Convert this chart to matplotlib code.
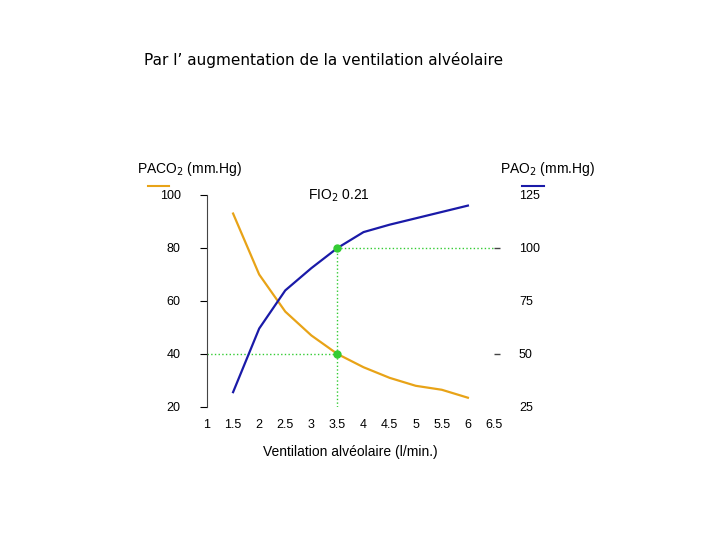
import matplotlib
matplotlib.use("Agg")
import matplotlib.pyplot as plt

va = [1.5, 2, 2.5, 3, 3.5, 4, 4.5, 5, 5.5, 6]
paco2 = [93, 70, 56, 47, 40, 35, 31, 28, 26.5, 23.5]
va_o2 = [1.5, 2, 2.5, 3, 3.5, 4, 4.5, 5, 5.5, 6]
pao2 = [32, 62, 80, 90.5, 100, 107.5, 111, 114, 117, 120]
xticks = [1, 1.5, 2, 2.5, 3, 3.5, 4, 4.5, 5, 5.5, 6, 6.5]
lticks = [20, 40, 60, 80, 100]
rticks = [25, 50, 75, 100, 125]

plt.rcParams['font.family'] = ['Liberation Sans', 'DejaVu Sans']
fig = plt.figure(figsize=(7.2, 5.4), dpi=100)
ax = fig.add_axes([0.2875, 0.2463, 0.3986, 0.3926])
ax.set_xlim(1, 6.5)
ax.set_ylim(20, 100)
ax.plot(va, paco2, color='#e8a317', lw=1.6)
for s in ['top', 'right', 'bottom']:
    ax.spines[s].set_visible(False)
ax.spines['left'].set_color('#444444')
ax.set_xticks(xticks)
ax.set_xticklabels([f"{t:g}" for t in xticks], fontsize=9)
ax.set_yticks(lticks)
ax.set_yticklabels([str(t) for t in lticks], fontsize=9)
ax.tick_params(axis='x', length=0, pad=9)
ax.tick_params(axis='y', length=5, direction='out', pad=14)
ax.set_xlabel('Ventilation alvéolaire (l/min.)', fontsize=10, labelpad=10)

ax2 = ax.twinx()
ax2.set_ylim(25, 125)
ax2.plot(va_o2, pao2, color='#1a1aa8', lw=1.6)
for s in ['top', 'right', 'bottom', 'left']:
    ax2.spines[s].set_visible(False)
ax2.set_yticks(rticks)
ax2.set_yticklabels([str(t) for t in rticks], fontsize=9)
ax2.tick_params(axis='y', length=0, pad=18)

g = '#33cc33'
ax.plot([1, 3.5], [40, 40], color=g, ls=':', lw=1)
ax.plot([3.5, 3.5], [20, 40], color=g, ls=':', lw=1)
ax2.plot([3.5, 3.5], [50, 100], color=g, ls=':', lw=1)
ax2.plot([3.5, 6.5], [100, 100], color=g, ls=':', lw=1)
ax.plot([3.5], [40], 'o', color=g, ms=5)
ax2.plot([3.5], [100], 'o', color=g, ms=5)
ax2.plot([6.55], [100], marker='_', color='#444444', ms=5, clip_on=False)
ax2.plot([6.55], [50], marker='_', color='#444444', ms=5, clip_on=False)

fig.text(0.2, 0.88, "Par l’ augmentation de la ventilation alvéolaire", fontsize=11,
         family=['DejaVu Sans'])
fig.text(0.19, 0.68, "PACO$_2$ (mm.Hg)", fontsize=10)
fig.text(0.695, 0.68, "PAO$_2$ (mm.Hg)", fontsize=10)
fig.text(0.428, 0.63, "FIO$_2$ 0.21", fontsize=10)
fig.add_artist(plt.Line2D([0.205, 0.235], [0.656, 0.656], color='#e8a317', lw=1.5))
fig.add_artist(plt.Line2D([0.725, 0.755], [0.656, 0.656], color='#1a1aa8', lw=1.5))

fig.savefig('out.png', dpi=100)
